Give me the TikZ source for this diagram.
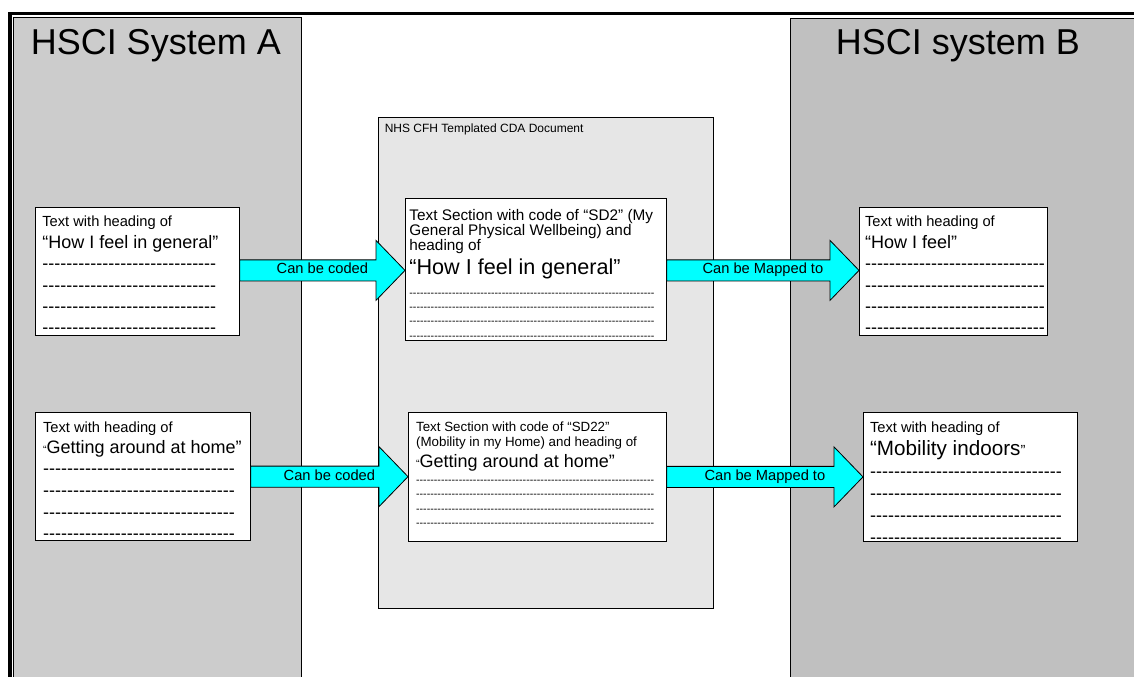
\documentclass[tikz,border=0pt]{standalone}
\usepackage{fontspec}
\setmainfont{Liberation Sans}
\usetikzlibrary{calc}
\definecolor{sysgrayA}{HTML}{CCCCCC}
\definecolor{sysgrayB}{HTML}{C0C0C0}
\definecolor{docgray}{HTML}{E6E6E6}
\definecolor{flowcyan}{HTML}{00FFFF}
\newcommand\fsz[2]{\fontsize{#1}{#2}\selectfont}
\newcommand\dashes[1]{\mbox{\foreach\k in {1,...,#1}{-\kern0pt}}}
% block arrow from one section to the next, with its text
\newcommand\blockarrow[4]{%
  \draw[flow] let \p1=(#1.east), \p2=(#2.west), \p3=($(#1.east)!.5!(#2.west)$) in
    (\x1,{\y3+7.9pt}) -- ({\x2-21.75pt},{\y3+7.9pt}) -- ({\x2-21.75pt},{\y3+22.5pt})
    -- (\x2,\y3) -- ({\x2-21.75pt},{\y3-22.5pt}) -- ({\x2-21.75pt},{\y3-7.9pt})
    -- (\x1,{\y3-7.9pt}) -- cycle;
  \path let \p3=($(#1.east)!.5!(#2.west)$) in
    node[flowtext] (#3) at (\x3,{\y3-2.6pt}) {#4};}

\begin{document}
\begin{tikzpicture}[x=0.75pt,y=-0.75pt,
  sysname/.style={anchor=base west, inner sep=0pt, font=\fsz{27}{30}},
  textbox/.style={draw, fill=white, anchor=north west, inner sep=0pt, line width=0.6pt},
  docpage/.style={draw, fill=docgray, anchor=north west, inner sep=0pt, line width=0.6pt},
  flow/.style={draw, fill=flowcyan, line width=0.6pt, line join=miter},
  flowtext/.style={anchor=base, inner sep=0pt, font=\fsz{11}{11}}]
\useasboundingbox (0,0) rectangle (1134,677);

% the two systems
\fill[sysgrayA] (13,17) rectangle (301,677);
\draw[line width=0.6pt] (13,677) -- (13,17) -- (301,17) -- (301,677);
\fill[sysgrayB] (790,18) rectangle (1134,677);
\draw[line width=0.6pt] (790,677) -- (790,18) -- (1134,18);
\draw[line width=2.5pt] (10,677) -- (10,13.3) -- (1134,13.3);
\node[sysname] (sysA) at (30.5,55) {HSCI System A};
\node[sysname] (sysB) at (835.5,55) {HSCI system B};

% the templated document
\node[docpage, minimum width=251.25pt, minimum height=368.25pt] (doc) at (378,117) {};
\node[anchor=base west, inner sep=0pt, font=\fsz{9}{10}] (docname) at (384.5,133)
  {NHS CFH Templated CDA Document};

% sections
\node[textbox, inner xsep=5.25pt, inner ysep=6.4pt] (genA) at (35,207)
  {\parbox[t][83.2pt][t]{142.5pt}{\parskip=0pt
    \fsz{11}{16}Text with heading of\par
    \fsz{13.5}{16.5}“How I feel in general”\par
    \fsz{13.5}{16}\dashes{29}\par\dashes{29}\par\dashes{29}\par\dashes{29}}};
\node[textbox, inner xsep=5.75pt, inner ysep=7.1pt] (mobA) at (35,412)
  {\parbox[t][81.8pt][t]{149.75pt}{\parskip=0pt
    \fsz{11}{16}Text with heading of\par
    \fsz{13.5}{15.4}{\fsz{8}{8}“}Getting around at home”\par
    \fsz{13.5}{16.25}\dashes{32}\par\dashes{32}\par\dashes{32}\par\dashes{32}}};
\node[textbox, inner xsep=3pt, inner ysep=8.15pt] (genDoc) at (405,198)
  {\parbox[t][90.2pt][t]{189.75pt}{\parskip=0pt
    \fsz{11.5}{11.25}Text Section with code of “SD2” (My\par
    General Physical Wellbeing) and\par
    heading of\par
    \fsz{16.2}{18}“How I feel in general”\par
    \fsz{8}{16.5}\dashes{69}\par
    \fsz{8}{10.7}\dashes{69}\par\dashes{69}\par\dashes{69}}};
\node[textbox, inner xsep=5.8pt, inner ysep=7pt] (mobDoc) at (408,412)
  {\parbox[t][82.75pt][t]{181.9pt}{\parskip=0pt
    \fsz{10}{11.25}Text Section with code of “SD22”\par
    (Mobility in my Home) and heading of\par
    \fsz{13.5}{15.75}{\fsz{8}{8}“}Getting around at home”\par
    \fsz{8}{12}\dashes{67}\par
    \fsz{8}{10.75}\dashes{67}\par\dashes{67}\par\dashes{67}}};
\node[textbox, inner xsep=4.3pt, inner ysep=6.4pt] (genB) at (859,207)
  {\parbox[t][83.2pt][t]{132.4pt}{\parskip=0pt
    \fsz{11}{16}Text with heading of\par
    \fsz{13.5}{16.5}“How I feel”\par
    \fsz{13.5}{16}\dashes{30}\par\dashes{30}\par\dashes{30}\par\dashes{30}}};
\node[textbox, inner xsep=5pt, inner ysep=7.1pt] (mobB) at (863,412)
  {\parbox[t][82.55pt][t]{150.5pt}{\parskip=0pt
    \fsz{11}{16}Text with heading of\par
    \fsz{15.5}{17.25}“Mobility indoors{\fsz{11}{11}”}\par
    \fsz{13.5}{16.5}\dashes{32}\par\dashes{32}\par\dashes{32}\par\dashes{32}}};

% coding and mapping
\blockarrow{genA}{genDoc}{codeGen}{Can be coded}
\blockarrow{mobA}{mobDoc}{codeMob}{Can be coded}
\blockarrow{genDoc}{genB}{mapGen}{Can be Mapped to}
\blockarrow{mobDoc}{mobB}{mapMob}{Can be Mapped to}
\end{tikzpicture}
\end{document}
